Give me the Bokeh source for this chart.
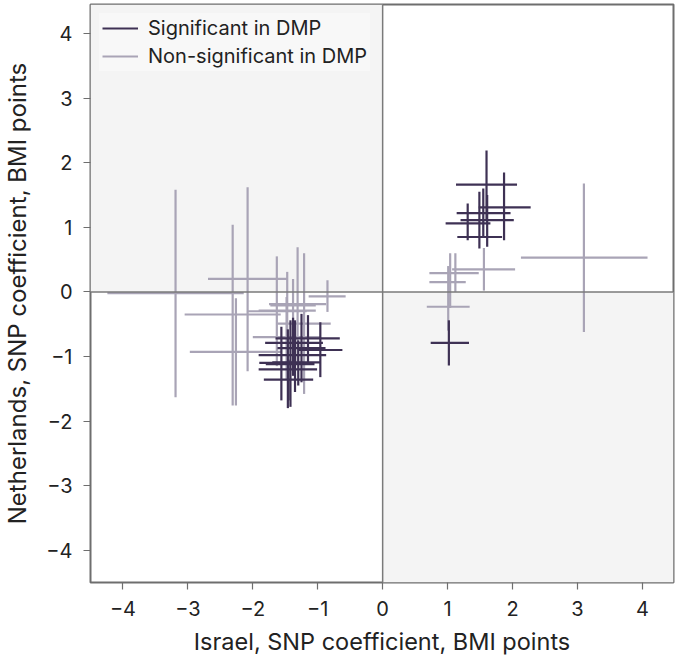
from bokeh.plotting import figure
from bokeh.models import (ColumnDataSource, BoxAnnotation, Span, Legend, LegendItem,
                          FixedTicker, Range1d)
from bokeh.embed import file_html
from bokeh.resources import INLINE

# Significant in DMP (dark)
sig_x   = [1.60, 1.87, 1.55, 1.49, 1.31, 1.61, 1.02,
           -1.15, -1.38, -1.25, -1.35, -1.30, -1.46, -1.45, -0.96, -1.56, -1.42]
sig_xlo = [1.13, 1.48, 1.14, 1.15, 0.97, 1.20, 0.74,
           -1.65, -1.81, -1.62, -1.91, -1.70, -1.91, -1.83, -1.30, -1.90, -1.80]
sig_xhi = [2.07, 2.28, 1.97, 1.84, 1.66, 2.02, 1.33,
           -0.66, -0.92, -0.88, -0.87, -0.95, -1.01, -1.07, -0.62, -1.22, -1.05]
sig_y   = [1.66, 1.31, 1.22, 0.85, 1.06, 1.11, -0.79,
           -0.72, -0.79, -0.87, -0.98, -1.09, -1.20, -1.36, -0.90, -1.10, -1.12]
sig_ylo = [1.13, 0.80, 0.85, 0.67, 0.80, 0.70, -1.14,
           -1.10, -1.30, -1.40, -1.55, -1.45, -1.80, -1.68, -1.32, -1.68, -1.78]
sig_yhi = [2.19, 1.85, 1.60, 1.55, 1.37, 1.50, -0.44,
           -0.36, -0.40, -0.34, -0.44, -0.75, -0.58, -1.05, -0.47, -0.54, -0.44]

# Non-significant in DMP (light)
non_x   = [1.56, 1.12, 1.04, 1.01, 3.10,
           -3.19, -2.08, -2.31, -2.26, -0.85, -1.31, -1.21, -1.63, -1.47, -1.38, -1.48]
non_xlo = [1.07, 0.72, 0.72, 0.68, 2.13,
           -4.24, -2.69, -3.05, -2.97, -1.14, -1.75, -1.62, -2.09, -1.91, -1.73, -2.00]
non_xhi = [2.04, 1.48, 1.28, 1.34, 4.08,
           -2.14, -1.47, -1.57, -1.55, -0.57, -0.87, -0.80, -1.17, -1.03, -1.03, -0.96]
non_y   = [0.35, 0.29, 0.15, -0.23, 0.53,
           -0.02, 0.20, -0.35, -0.93, -0.07, -0.19, -0.49, -0.30, -0.29, -0.21, -0.70]
non_ylo = [0.02, 0.00, -0.25, -0.60, -0.62,
           -1.63, -1.23, -1.76, -1.76, -0.31, -1.07, -1.58, -1.15, -0.89, -0.60, -1.35]
non_yhi = [0.68, 0.60, 0.60, 0.40, 1.68,
           1.58, 1.62, 1.04, -0.10, 0.18, 0.69, 0.60, 0.55, 0.31, 0.20, -0.08]

ticks = [-4, -3, -2, -1, 0, 1, 2, 3, 4]
tick_labels = {t: (str(t).replace("-", "\u2212")) for t in ticks}

DARK = "#3e3154"
LIGHT = "#a9a4b6"
FONT = "Inter"

p = figure(frame_width=583, frame_height=578,
           x_range=Range1d(-4.5, 4.48), y_range=Range1d(-4.5, 4.45),
           output_backend="svg", toolbar_location=None,
           min_border_left=90, min_border_right=4, min_border_top=4, min_border_bottom=60)
p.background_fill_color = "white"
p.grid.visible = False
p.outline_line_color = "#6e6e6e"
p.outline_line_width = 2

# shaded quadrants
p.add_layout(BoxAnnotation(right=0, bottom=0, fill_color="#f4f4f4", fill_alpha=1,
                           line_alpha=0, level="underlay"))
p.add_layout(BoxAnnotation(left=0, top=0, fill_color="#f4f4f4", fill_alpha=1,
                           line_alpha=0, level="underlay"))
p.add_layout(Span(location=0, dimension="width", line_color="#7a7a7a", line_width=1.5))
p.add_layout(Span(location=0, dimension="height", line_color="#7a7a7a", line_width=1.5))

src_non = ColumnDataSource(dict(x=non_x, xlo=non_xlo, xhi=non_xhi, y=non_y, ylo=non_ylo, yhi=non_yhi))
src_sig = ColumnDataSource(dict(x=sig_x, xlo=sig_xlo, xhi=sig_xhi, y=sig_y, ylo=sig_ylo, yhi=sig_yhi))

r_non_h = p.segment(x0="xlo", x1="xhi", y0="y", y1="y", source=src_non, line_color=LIGHT, line_width=2.2)
p.segment(x0="x", x1="x", y0="ylo", y1="yhi", source=src_non, line_color=LIGHT, line_width=2.2)
r_sig_h = p.segment(x0="xlo", x1="xhi", y0="y", y1="y", source=src_sig, line_color=DARK, line_width=2.2)
p.segment(x0="x", x1="x", y0="ylo", y1="yhi", source=src_sig, line_color=DARK, line_width=2.2)

for ax in (p.xaxis[0], p.yaxis[0]):
    ax.ticker = FixedTicker(ticks=ticks)
    ax.major_label_overrides = tick_labels
    ax.minor_tick_line_color = None
    ax.major_tick_in = 0
    ax.major_tick_out = 7
    ax.major_tick_line_color = "#6e6e6e"
    ax.major_tick_line_width = 1.2
    ax.axis_line_color = None
    ax.major_label_text_font = FONT
    ax.major_label_text_font_size = "20px"
    ax.major_label_text_color = "#222222"
    ax.major_label_standoff = 11
    ax.axis_label_text_font = FONT
    ax.axis_label_text_font_style = "normal"
    ax.axis_label_text_color = "#222222"

p.xaxis.axis_label = "Israel, SNP coefficient, BMI points"
p.yaxis.axis_label = "Netherlands, SNP coefficient, BMI points"
p.xaxis.axis_label_text_font_size = "23.5px"
p.yaxis.axis_label_text_font_size = "24px"
p.xaxis.axis_label_standoff = 8
p.yaxis.axis_label_standoff = 11

legend = Legend(items=[LegendItem(label="Significant in DMP", renderers=[r_sig_h]),
                       LegendItem(label="Non-significant in DMP", renderers=[r_non_h])],
                location="top_left")
legend.margin = 9
legend.padding = 3
legend.spacing = 4
legend.label_height = 24
legend.glyph_height = 24
legend.glyph_width = 36
legend.label_standoff = 10
legend.label_text_font = FONT
legend.label_text_font_size = "20px"
legend.label_text_color = "#222222"
legend.background_fill_color = "#f8f8f8"
legend.background_fill_alpha = 1
legend.border_line_alpha = 0
p.add_layout(legend)

open("out.html", "w").write(file_html(p, INLINE))
